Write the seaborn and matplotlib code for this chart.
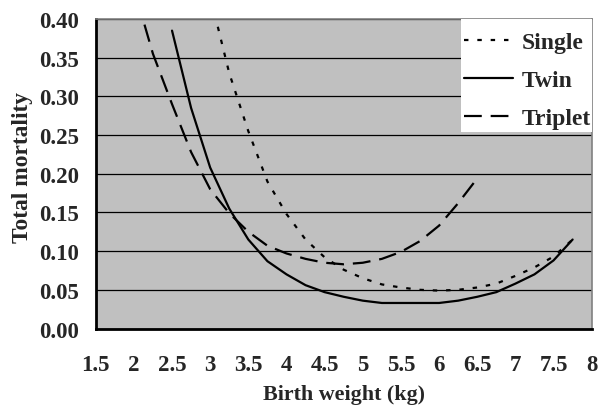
import matplotlib
matplotlib.use("Agg")
import matplotlib.pyplot as plt
from matplotlib.patches import Rectangle
import seaborn as sns
import pandas as pd
import numpy as np

single_x = [3.1, 3.25, 3.5, 3.75, 4.0, 4.25, 4.5, 4.75, 5.0, 5.25, 5.5, 5.75, 6.0, 6.25, 6.5, 6.75, 7.0, 7.25, 7.5, 7.75]
single_y = [0.39, 0.33, 0.255, 0.19, 0.148, 0.115, 0.092, 0.076, 0.065, 0.057, 0.053, 0.050, 0.049, 0.050, 0.053, 0.058, 0.068, 0.079, 0.093, 0.115]

twin_x = [2.5, 2.75, 3.0, 3.25, 3.5, 3.75, 4.0, 4.25, 4.5, 4.75, 5.0, 5.25, 5.5, 5.75, 6.0, 6.25, 6.5, 6.75, 7.0, 7.25, 7.5, 7.75]
twin_y = [0.385, 0.285, 0.208, 0.155, 0.115, 0.087, 0.070, 0.056, 0.047, 0.041, 0.036, 0.033, 0.033, 0.033, 0.033, 0.036, 0.041, 0.047, 0.058, 0.070, 0.088, 0.115]

triplet_x = [2.0, 2.25, 2.5, 2.75, 3.0, 3.25, 3.5, 3.75, 4.0, 4.25, 4.5, 4.75, 5.0, 5.25, 5.5, 5.75, 6.0, 6.25, 6.5]
triplet_y = [0.44, 0.355, 0.29, 0.228, 0.18, 0.149, 0.125, 0.107, 0.097, 0.090, 0.085, 0.083, 0.085, 0.090, 0.099, 0.113, 0.133, 0.162, 0.194]

series_names = ["Single", "Twin", "Triplet"]
x_ticks = [1.5, 2, 2.5, 3, 3.5, 4, 4.5, 5, 5.5, 6, 6.5, 7, 7.5, 8]
x_tick_labels = ["1.5", "2", "2.5", "3", "3.5", "4", "4.5", "5", "5.5", "6", "6.5", "7", "7.5", "8"]
y_ticks = [0.0, 0.05, 0.10, 0.15, 0.20, 0.25, 0.30, 0.35, 0.40]
y_tick_labels = ["0.00", "0.05", "0.10", "0.15", "0.20", "0.25", "0.30", "0.35", "0.40"]

df = pd.concat([
    pd.DataFrame({"x": single_x, "y": single_y, "type": series_names[0]}),
    pd.DataFrame({"x": twin_x, "y": twin_y, "type": series_names[1]}),
    pd.DataFrame({"x": triplet_x, "y": triplet_y, "type": series_names[2]}),
], ignore_index=True)

sns.set_style("white", {"axes.facecolor": "#C0C0C0"})
plt.rcParams["font.family"] = ["Liberation Serif", "DejaVu Serif"]
plt.rcParams["font.weight"] = "bold"

fig = plt.figure(figsize=(5.99, 4.06), dpi=100)
ax = fig.add_axes([0.1598, 0.1884, 0.9878 - 0.1598, 0.9507 - 0.1884])

sns.lineplot(data=df, x="x", y="y", style="type", color="black",
             dashes={"Single": (2, 4), "Twin": "", "Triplet": (8, 4)},
             linewidth=1.6, ax=ax, sort=False, legend=True)

ax.set_xlim(1.5, 8)
ax.set_ylim(0, 0.40)
ax.set_xticks(x_ticks)
ax.set_xticklabels(x_tick_labels)
ax.set_yticks(y_ticks)
ax.set_yticklabels(y_tick_labels)
ax.yaxis.grid(True, color="black", linewidth=0.9)
ax.xaxis.grid(False)
ax.set_axisbelow(True)

for s in ["left", "bottom"]:
    ax.spines[s].set_color("black")
    ax.spines[s].set_linewidth(2)
for s in ["top", "right"]:
    ax.spines[s].set_color("#808080")
    ax.spines[s].set_linewidth(1.2)

ax.tick_params(axis="both", direction="out", length=6, width=1.6, color="black",
               labelsize=16.5)
ax.tick_params(axis="x", pad=12)
ax.tick_params(axis="y", pad=6)
for lab in ax.get_xticklabels() + ax.get_yticklabels():
    lab.set_fontweight("bold")

ax.set_xlabel("Birth weight (kg)", fontsize=15.8, fontweight="bold", labelpad=7)
ax.set_ylabel("Total mortality", fontsize=16.9, fontweight="bold")
ax.yaxis.set_label_coords(-0.1264, 0.525)

# white legend background box
ax.add_patch(Rectangle((0.7365, 0.635), 1.0 - 0.7365, 0.365, transform=ax.transAxes,
                       facecolor="white", edgecolor="none", zorder=5, clip_on=False))

handles, labels = ax.get_legend_handles_labels()
leg = ax.legend(handles, labels, loc="upper right", bbox_to_anchor=(0.9986, 0.959),
                frameon=False, borderaxespad=0, borderpad=0,
                handlelength=2.05, labelspacing=0.69, handletextpad=0.38,
                prop={"family": "Liberation Serif", "weight": "bold", "size": 17})
leg.set_zorder(6)

fig.savefig("out.png", dpi=100)
